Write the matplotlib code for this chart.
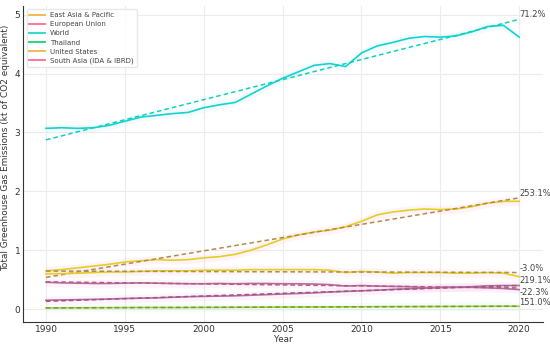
import numpy as np
import matplotlib
matplotlib.use("Agg")
import matplotlib.pyplot as plt

years = list(range(1990, 2021))

world = [3.07, 3.08, 3.07, 3.08, 3.12, 3.19, 3.26, 3.29, 3.32, 3.34, 3.42, 3.47, 3.51, 3.65, 3.79,
         3.92, 4.03, 4.14, 4.17, 4.12, 4.35, 4.47, 4.53, 4.60, 4.63, 4.62, 4.64, 4.71, 4.80, 4.82, 4.62]
east_asia = [0.65, 0.67, 0.70, 0.73, 0.76, 0.80, 0.82, 0.84, 0.83, 0.84, 0.87, 0.89, 0.93, 1.00, 1.09,
             1.19, 1.26, 1.31, 1.34, 1.40, 1.49, 1.60, 1.65, 1.68, 1.70, 1.69, 1.70, 1.74, 1.80, 1.83, 1.83]
united_states = [0.60, 0.60, 0.61, 0.62, 0.63, 0.63, 0.64, 0.65, 0.65, 0.65, 0.66, 0.66, 0.66, 0.67, 0.67,
                 0.67, 0.67, 0.67, 0.66, 0.62, 0.64, 0.63, 0.61, 0.62, 0.62, 0.62, 0.61, 0.61, 0.62, 0.61, 0.55]
european_union = [0.455, 0.445, 0.44, 0.435, 0.435, 0.44, 0.445, 0.44, 0.435, 0.43, 0.43, 0.435, 0.43, 0.435,
                  0.435, 0.43, 0.43, 0.425, 0.415, 0.39, 0.40, 0.39, 0.385, 0.38, 0.365, 0.37, 0.37, 0.37,
                  0.36, 0.35, 0.33]
south_asia = [0.15, 0.155, 0.16, 0.165, 0.17, 0.18, 0.185, 0.19, 0.20, 0.21, 0.215, 0.22, 0.225, 0.235,
              0.245, 0.255, 0.265, 0.275, 0.29, 0.30, 0.31, 0.32, 0.335, 0.345, 0.355, 0.365, 0.37, 0.38,
              0.395, 0.40, 0.40]
thailand = [0.020, 0.021, 0.022, 0.023, 0.024, 0.025, 0.027, 0.027, 0.026, 0.027, 0.028, 0.029, 0.030,
            0.031, 0.032, 0.033, 0.034, 0.035, 0.036, 0.037, 0.039, 0.040, 0.041, 0.042, 0.043, 0.044,
            0.045, 0.046, 0.047, 0.048, 0.047]

names = ["East Asia & Pacific", "European Union", "World", "Thailand", "United States", "South Asia (IDA & IBRD)"]
series = [east_asia, european_union, world, thailand, united_states, south_asia]
pct_labels = ["253.1%", "-22.3%", "71.2%", "151.0%", "-3.0%", "219.1%"]

legend_colors = ["#f7b244", "#ff6b8f", "#22d8c8", "#1ecf72", "#f7b244", "#ff6b8f"]
line_colors = ["#e2d020", "#b46ea6", "#14d2d2", "#a6cf3a", "#e2d020", "#b46ea6"]
trend_colors = ["#b8864a", "#b0607e", "#10d0c0", "#7a9a30", "#a8904a", "#9a5a80"]
band_colors = ["#ff7fc8", "#ff7fc8", "#80e8e8", "#80f0c0", "#ff7fc8", "#ff7fc8"]
label_dy = [0.07, -0.08, 0.09, 0.06, 0.06, 0.08]

fig = plt.figure(figsize=(5.5, 3.47), dpi=100)
ax = fig.add_axes([0.042, 0.072, 0.945, 0.911])

x = np.array(years)
for name, vals, lc, tc, bc, lgc, pl, dy in zip(names, series, line_colors, trend_colors, band_colors,
                                               legend_colors, pct_labels, label_dy):
    v = np.array(vals)
    ax.fill_between(x, v - 0.07, v + 0.07, color=bc, alpha=0.09, linewidth=0)
    ax.plot(x, v, color=lc, lw=1.2)
    coef = np.polyfit(x, v, 1)
    tr = np.polyval(coef, x)
    ax.plot(x, tr, color=tc, lw=1.1, ls=(0, (3, 2)))
    ax.text(2020, tr[-1] + dy, pl, fontsize=6, color="#444444", ha="left", va="center")
    ax.plot([], [], color=lgc, lw=1.3, label=name)

handles, labels = ax.get_legend_handles_labels()
ax.legend(handles, labels, loc="upper left", fontsize=5.0, frameon=True, framealpha=0.9,
          edgecolor="#e6e6e6", handlelength=2.2, borderpad=0.4, labelspacing=0.45,
          bbox_to_anchor=(0.0, 1.0), labelcolor="#444444")

ax.set_xlim(1988.55, 2021.5)
ax.set_ylim(-0.22, 5.15)
ax.set_xticks([1990, 1995, 2000, 2005, 2010, 2015, 2020])
ax.set_yticks([0, 1, 2, 3, 4, 5])
ax.grid(True, color="#ececec", lw=0.8)
ax.set_axisbelow(True)
for s in ["top", "right"]:
    ax.spines[s].set_visible(False)
for s in ["left", "bottom"]:
    ax.spines[s].set_color("#333333")
    ax.spines[s].set_linewidth(0.8)
ax.tick_params(labelsize=6.5, colors="#333333", length=0, pad=2)
ax.set_xlabel("Year", fontsize=6.3, color="#333333", labelpad=1)
ax.set_ylabel("Total Greenhouse Gas Emissions (kt of CO2 equivalent)", fontsize=6.4, color="#333333", labelpad=1)
ax.yaxis.set_label_coords(-0.026, 0.55)

fig.savefig("out.png", dpi=100)
